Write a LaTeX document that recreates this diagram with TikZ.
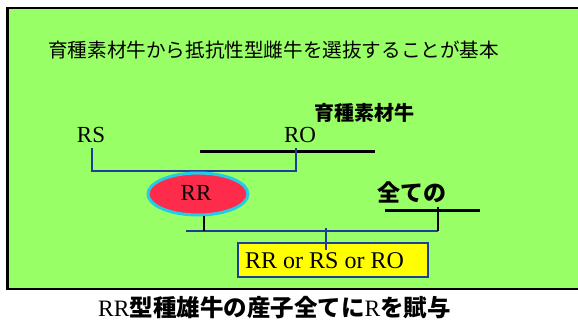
\documentclass[tikz,border=0pt]{standalone}
\usepackage{fontspec}
\usetikzlibrary{shapes.geometric}
\setmainfont{Liberation Serif}
\newfontfamily\jp{Noto Sans CJK JP}
\newcommand{\jpb}{\jp\bfseries}
\definecolor{bggreen}{HTML}{99FF66}
\definecolor{rrred}{HTML}{FF2B4B}
\definecolor{rrcyan}{HTML}{22CCE6}
\definecolor{lineblue}{HTML}{1F3E9A}
\definecolor{boxyellow}{HTML}{FFFF00}
\tikzset{
  lbl/.style={inner sep=0pt, font=\fontsize{23}{23}\selectfont},
  blk/.style={line width=3pt, black},
  blu/.style={line width=2.6pt, lineblue},
}
\begin{document}
\begin{tikzpicture}[x=1pt,y=-1pt]
\useasboundingbox (0,0) rectangle (578,327);
\fill[white] (0,0) rectangle (578,327);
\draw[line width=2.2pt, fill=bggreen] (7.5,8) rectangle (590,289);
\node[inner sep=0pt, anchor=west, font=\jp\fontsize{19.6}{19.6}\selectfont] (title) at (48,50) {育種素材牛から抵抗性型雌牛を選抜することが基本};
\node[inner sep=0pt, font=\jpb\fontsize{20}{20}\selectfont] (mat) at (364,113) {育種素材牛};
\node[lbl] (rs) at (91,135) {RS};
\node[lbl] (ro) at (300,135) {RO};
\coordinate (m1l) at (200,151);
\coordinate (m1r) at (375,151);
\draw[blk] (m1l) -- (m1r);
\coordinate (rsb) at (92,148);
\coordinate (rob) at (296,148);
\draw[blu] (rsb) |- (296,171) -- (rob);
\node[ellipse, draw=rrcyan, line width=3pt, fill=rrred, minimum width=100pt, minimum height=42pt, inner sep=0pt] (rr) at (198,194) {};
\node[lbl] (rrt) at (196,193) {RR};
\node[inner sep=0pt, font=\jpb\fontsize{23}{23}\selectfont] (all) at (412,192) {全ての};
\coordinate (m2l) at (385,210);
\coordinate (m2r) at (480,210);
\draw[blk] (m2l) -- (m2r);
\coordinate (tk) at (204,216);
\coordinate (bl) at (186,231);
\coordinate (br) at (438,231);
\draw[blu] (bl) -- (br);
\draw[line width=2.2pt, black] (tk) -- (204,231);
\draw[line width=2.2pt, black] (438,207) -- (br);
\node[draw=lineblue, line width=2.2pt, fill=boxyellow, minimum width=190pt, minimum height=34pt, inner sep=0pt] (off) at (333,260) {};
\node[inner sep=0pt, anchor=west, font=\fontsize{24}{24}\selectfont] (offt) at (245,261) {RR or RS or RO};
\draw[blu] (326,228) -- (326,250);
\node[inner sep=0pt, anchor=west, font=\fontsize{23.5}{23.5}\selectfont] (bottom) at (98,308) {RR{\jpb 型種雄牛の産子全てに}R{\jpb を賦与}};
\end{tikzpicture}
\end{document}
